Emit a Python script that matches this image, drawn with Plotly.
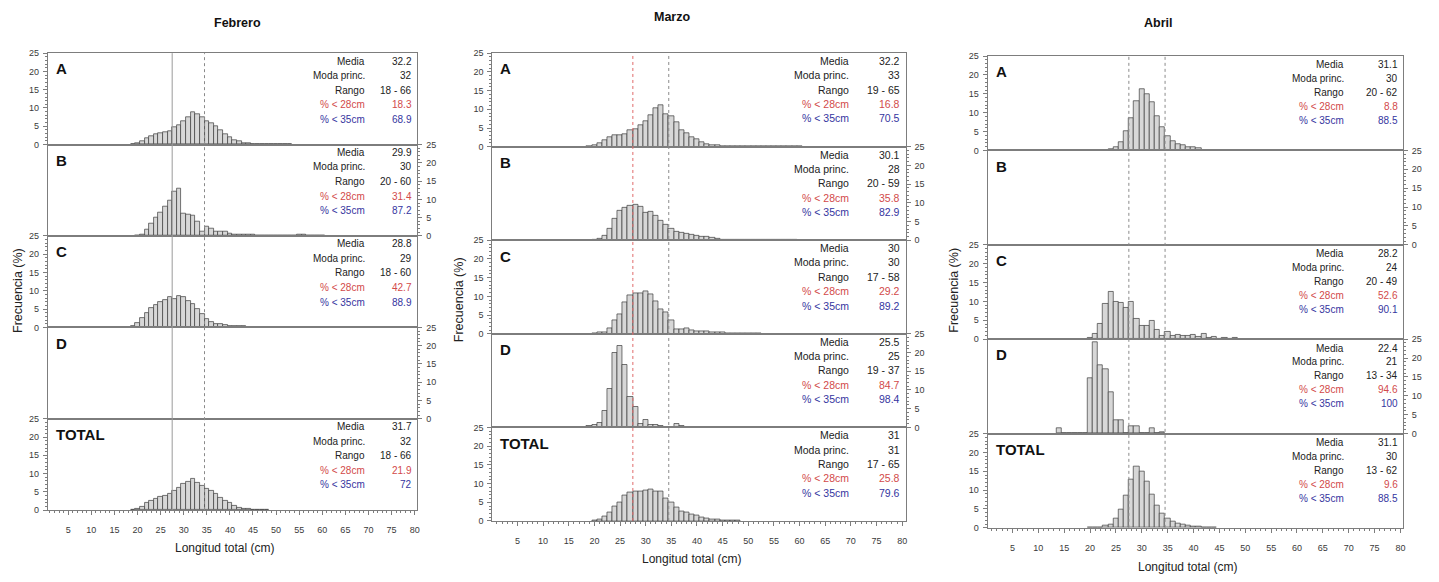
import plotly.graph_objects as go

W, H = 1439, 582

MONTHS = ["Febrero", "Marzo", "Abril"]
GROUPS = ["A", "B", "C", "D", "TOTAL"]
STAT_LABELS = ["Media", "Moda princ.", "Rango", "% < 28cm", "% < 35cm"]
X_TICKS = [5, 10, 15, 20, 25, 30, 35, 40, 45, 50, 55, 60, 65, 70, 75, 80]
Y_TICKS = [0, 5, 10, 15, 20, 25]
CUT_LINES = [27.5, 34.5]

# ---------------- Febrero ----------------
FEB_A_START = 19
FEB_A = [0.2, 0.5, 1.0, 1.8, 2.3, 2.8, 3.0, 3.3, 3.7, 4.7, 5.4, 6.5, 7.6, 9.0, 8.4, 7.4,
         6.5, 5.8, 4.9, 3.9, 2.9, 2.0, 1.3, 0.8, 0.4, 0.3, 0.2, 0.15, 0.1, 0.1, 0.1, 0.1,
         0.1, 0.1, 0.1]
FEB_B_START = 20
FEB_B = [0.1, 0.3, 1.8, 3.3, 5.1, 6.5, 8.0, 9.8, 12.2, 13.1, 6.0, 5.9, 5.7, 3.9, 1.3,
         2.7, 1.9, 1.2, 1.1, 1.1, 0.7, 0.5, 0.4, 0.3, 0.4, 0.3, 0.2, 0.2, 0.2, 0.1, 0.2,
         0.1, 0.2, 0.1, 0.1, 0.3, 0.3, 0.1, 0.2, 0.1, 0.2]
FEB_C_START = 18
FEB_C = [0.1, 0.4, 1.3, 2.7, 4.0, 5.2, 6.2, 7.0, 7.6, 8.3, 7.9, 8.7, 8.3, 7.3, 6.3, 4.9,
         3.6, 2.4, 1.5, 1.0, 0.8, 0.6, 0.5, 0.4, 0.3, 0.3, 0.2, 0.2, 0.2, 0.1, 0.1, 0.1,
         0.1]
FEB_D_START = 0
FEB_D = []
FEB_T_START = 19
FEB_T = [0.1, 0.5, 1.0, 2.0, 2.7, 3.2, 3.6, 4.0, 4.6, 5.3, 6.2, 7.3, 7.8, 8.5, 7.5, 6.7,
         5.8, 5.2, 4.5, 3.5, 2.6, 2.0, 1.2, 0.7, 0.4, 0.3, 0.2, 0.2, 0.2, 0.2]

# ---------------- Marzo ----------------
MAR_A_START = 19
MAR_A = [0.2, 0.5, 1.0, 1.8, 2.6, 3.0, 3.2, 3.4, 4.3, 4.7, 5.7, 6.9, 8.5, 10.3, 11.1, 8.6,
         8.2, 6.5, 4.4, 3.5, 2.6, 1.9, 1.2, 0.7, 0.4, 0.3, 0.2, 0.15, 0.1, 0.1, 0.15, 0.1,
         0.1, 0.15, 0.1, 0.15, 0.1, 0.1, 0.1, 0.1, 0.1, 0.15]
MAR_B_START = 20
MAR_B = [0.1, 0.5, 1.2, 3.0, 5.8, 8.0, 8.8, 9.2, 9.4, 9.1, 7.3, 7.7, 6.6, 5.3, 4.2, 3.0,
         2.3, 2.0, 1.8, 1.5, 1.1, 1.0, 0.9, 0.6, 0.3, 0.2, 0.15, 0.1, 0.1, 0.1, 0.1, 0.1,
         0.1, 0.1, 0.1, 0.1, 0.1, 0.1, 0.1, 0.1]
MAR_C_START = 20
MAR_C = [0.2, 0.3, 0.5, 1.5, 3.5, 5.3, 8.5, 10.3, 10.8, 10.8, 11.4, 10.5,
         8.6, 6.6, 5.8, 3.7, 1.3, 1.2, 1.4, 1.0, 0.8, 0.7, 0.6, 0.5, 0.4, 0.3, 0.2, 0.2,
         0.2, 0.1, 0.1, 0.1, 0.1]
MAR_D_START = 19
MAR_D = [0.4, 0.7, 1.2, 4.4, 10.2, 19.9, 21.9, 16.6, 8.2, 5.5, 0.9, 1.9, 0.7, 0.7, 0.5,
         0.2, 0.0, 0.9, 0.4]
MAR_T_START = 20
MAR_T = [0.2, 0.5, 1.2, 2.2, 3.8, 5.0, 6.7, 7.6, 7.9, 8.0, 8.1, 8.4, 8.0, 7.8, 6.1, 5.0,
         3.7, 2.6, 2.2, 1.8, 1.4, 0.9, 0.6, 0.4, 0.3, 0.2, 0.15, 0.15, 0.15]

# ---------------- Abril ----------------
ABR_A_START = 23
ABR_A = [0.1, 0.4, 1.0, 2.1, 5.0, 8.5, 13.0, 16.3, 15.0, 12.7, 9.2, 6.3, 3.9, 2.6, 1.7,
         1.3, 0.9, 0.8, 0.5, 0.2, 0.15, 0.1, 0.1, 0.1, 0.1, 0.1, 0.1, 0.1, 0.1, 0.1, 0.1,
         0.1, 0.1, 0.1, 0.1, 0.15, 0.15, 0.1, 0.1, 0.1]
ABR_B_START = 0
ABR_B = []
ABR_C_START = 20
ABR_C = [0.3, 1.5, 4.0, 9.3, 12.5, 9.8, 9.6, 8.3, 9.8, 5.5, 3.5, 3.5, 4.8, 2.4, 0.9,
         1.9, 0.8, 1.1, 1.0, 0.8, 1.1, 0.6, 1.4, 0.3, 0.6, 0.1, 0.3, 0.2, 0.3]
ABR_D_START = 14
ABR_D = [1.3, 0.15, 0.15, 0.15, 0.15, 0.15, 14.6, 24.2, 18.0, 17.0, 10.9, 3.5, 3.5, 0.0,
         1.9, 1.9, 0.0, 0.0, 1.3, 0.0, 0.4]
ABR_T_START = 20
ABR_T = [0.1, 0.15, 0.2, 0.7, 1.0, 2.5, 4.9, 8.6, 12.8, 16.2, 15.0, 12.3, 8.9, 6.0, 3.8,
         2.6, 1.6, 1.2, 0.9, 0.6, 0.4, 0.3, 0.2, 0.1, 0.1]

# ---------------- stats ----------------
FEB_STATS = [["32.2", "32", "18 - 66", "18.3", "68.9"],
             ["29.9", "30", "20 - 60", "31.4", "87.2"],
             ["28.8", "29", "18 - 60", "42.7", "88.9"],
             None,
             ["31.7", "32", "18 - 66", "21.9", "72"]]
MAR_STATS = [["32.2", "33", "19 - 65", "16.8", "70.5"],
             ["30.1", "28", "20 - 59", "35.8", "82.9"],
             ["30", "30", "17 - 58", "29.2", "89.2"],
             ["25.5", "25", "19 - 37", "84.7", "98.4"],
             ["31", "31", "17 - 65", "25.8", "79.6"]]
ABR_STATS = [["31.1", "30", "20 - 62", "8.8", "88.5"],
             None,
             ["28.2", "24", "20 - 49", "52.6", "90.1"],
             ["22.4", "21", "13 - 34", "94.6", "100"],
             ["31.1", "30", "13 - 62", "9.6", "88.5"]]

DATA = [
    [(FEB_A_START, FEB_A), (FEB_B_START, FEB_B), (FEB_C_START, FEB_C), (FEB_D_START, FEB_D), (FEB_T_START, FEB_T)],
    [(MAR_A_START, MAR_A), (MAR_B_START, MAR_B), (MAR_C_START, MAR_C), (MAR_D_START, MAR_D), (MAR_T_START, MAR_T)],
    [(ABR_A_START, ABR_A), (ABR_B_START, ABR_B), (ABR_C_START, ABR_C), (ABR_D_START, ABR_D), (ABR_T_START, ABR_T)],
]
STATS = [FEB_STATS, MAR_STATS, ABR_STATS]

# ---------------- layout geometry (pixels) ----------------
COLS = [
    dict(x0=48, x1=418, y0=49, y1=514, xr=[0.6, 80.6], title_x=238, title_y=18,
         lab_x=368, val_x=415, row0=8, row_dy=14.8, stat_fs=10,
         ytitle_x=18, ytitle_y=290, xtitle_y=552,
         c28=dict(color="#9a9a9a", dash="solid"), c35=dict(color="#8a8a8a", dash="dot")),
    dict(x0=493, x1=907, y0=49, y1=525, xr=[0.1, 80.7], title_x=673, title_y=12,
         lab_x=852, val_x=903, row0=8, row_dy=14.6, stat_fs=10.5,
         ytitle_x=459, ytitle_y=300, xtitle_y=564,
         c28=dict(color="#e06a6a", dash="dot"), c35=dict(color="#8a8a8a", dash="dot")),
    dict(x0=989, x1=1405, y0=52, y1=532, xr=[0.2, 80.5], title_x=1160, title_y=18,
         lab_x=1348, val_x=1402, row0=9, row_dy=14.2, stat_fs=10,
         ytitle_x=955, ytitle_y=290, xtitle_y=572,
         c28=dict(color="#8a8a8a", dash="dot"), c35=dict(color="#8a8a8a", dash="dot")),
]

FONT = "Liberation Sans, Arial, sans-serif"
AXIS_COL = "#7d7d7d"
TICK_FONT = dict(family=FONT, size=9, color="#3a3a3a")
RED = "#d24a4a"
BLUE = "#3535a0"


def px(x):
    return x / W


def py(y):
    return 1 - y / H


fig = go.Figure()
layout = {}
annotations = []
shapes = []
n = 0
for ci, col in enumerate(COLS):
    ph = (col["y1"] - col["y0"]) / 5
    for gi, g in enumerate(GROUPS):
        n += 1
        sfx = "" if n == 1 else str(n)
        top = col["y0"] + gi * ph
        bot = top + ph
        start, vals = DATA[ci][gi]
        xs = [start + i for i in range(len(vals))]
        fig.add_trace(go.Bar(
            x=xs, y=vals, width=1, xaxis="x" + sfx, yaxis="y" + sfx,
            marker=dict(color="#d7d7d7", line=dict(color="#3c3c3c", width=0.7)),
            showlegend=False, hoverinfo="x+y"))
        is_total = (g == "TOTAL")
        layout["xaxis" + sfx] = dict(
            domain=[px(col["x0"]), px(col["x1"])], range=col["xr"], anchor="y" + sfx,
            showline=True, mirror=True, linecolor=AXIS_COL, linewidth=1,
            showgrid=False, zeroline=False,
            tickmode="array", tickvals=X_TICKS,
            showticklabels=is_total, ticks="outside" if is_total else "",
            ticklen=4, tickcolor=AXIS_COL, tickfont=TICK_FONT,
            ticklabelstandoff=7,
            minor=dict(dtick=1, ticklen=2, ticks="outside", tickcolor=AXIS_COL) if is_total else dict(ticks=""),
        )
        side = "left" if gi in (0, 2, 4) else "right"
        layout["yaxis" + sfx] = dict(
            domain=[py(bot), py(top)], range=[0, 25], anchor="x" + sfx, side=side,
            showline=True, mirror=True, linecolor=AXIS_COL, linewidth=1,
            showgrid=False, zeroline=False,
            tickmode="array", tickvals=Y_TICKS, ticks="outside", ticklen=4,
            tickcolor=AXIS_COL, tickfont=TICK_FONT, ticklabelstandoff=2,
            minor=dict(dtick=1, ticklen=2, ticks="outside", tickcolor=AXIS_COL),
        )
        # panel letter
        annotations.append(dict(
            x=px(col["x0"] + 6), y=py(top + 16), xref="paper", yref="paper",
            text="<b>%s</b>" % g, showarrow=False, xanchor="left", yanchor="middle",
            font=dict(family=FONT, size=15, color="#111")))
        st = STATS[ci][gi]
        if st:
            for ri, (lab, val) in enumerate(zip(STAT_LABELS, st)):
                color = "#222" if ri < 3 else (RED if ri == 3 else BLUE)
                yy = py(top + col["row0"] + ri * col["row_dy"])
                annotations.append(dict(
                    x=px(col["lab_x"]), y=yy, xref="paper", yref="paper", text=lab,
                    showarrow=False, xanchor="right", yanchor="middle",
                    font=dict(family=FONT, size=col["stat_fs"], color=color)))
                annotations.append(dict(
                    x=px(col["val_x"]), y=yy, xref="paper", yref="paper", text=val,
                    showarrow=False, xanchor="right", yanchor="middle",
                    font=dict(family=FONT, size=col["stat_fs"], color=color)))
    # cut lines through the whole column
    for xv, st_line in zip(CUT_LINES, [col["c28"], col["c35"]]):
        shapes.append(dict(
            type="line", xref="x" + str(n), yref="paper",
            x0=xv, x1=xv, y0=py(col["y1"]), y1=py(col["y0"]),
            line=dict(color=st_line["color"], width=1, dash=st_line["dash"]), layer="above"))
    # month title
    annotations.append(dict(
        x=px(col["title_x"]), y=py(col["title_y"]), xref="paper", yref="paper",
        text="<b>%s</b>" % MONTHS[ci], showarrow=False, xanchor="center", yanchor="middle",
        font=dict(family=FONT, size=12.5, color="#111")))
    # axis titles
    annotations.append(dict(
        x=px((col["x0"] + col["x1"]) / 2 - 8), y=py(col["xtitle_y"]), xref="paper", yref="paper",
        text="Longitud total (cm)", showarrow=False, xanchor="center", yanchor="middle",
        font=dict(family=FONT, size=12, color="#222")))
    annotations.append(dict(
        x=px(col["ytitle_x"]), y=py(col["ytitle_y"]), xref="paper", yref="paper",
        text="Frecuencia (%)", showarrow=False, xanchor="center", yanchor="middle",
        textangle=-90, font=dict(family=FONT, size=12.5, color="#222")))

fig.update_layout(
    width=W, height=H, margin=dict(l=0, r=0, t=0, b=0),
    paper_bgcolor="white", plot_bgcolor="white",
    bargap=0, showlegend=False,
    annotations=annotations, shapes=shapes,
    **layout,
)

fig.write_html("out.html", config={"displayModeBar": False},
               post_script="document.body.style.margin='0px';")
